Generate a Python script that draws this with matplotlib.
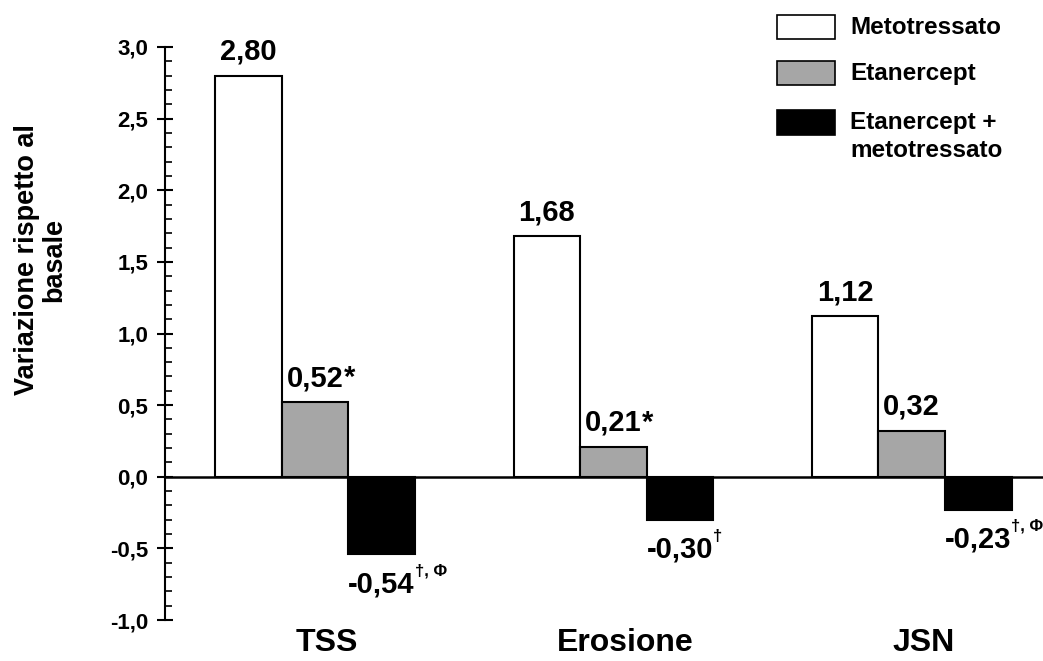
import matplotlib
matplotlib.use("Agg")
import matplotlib.pyplot as plt
from matplotlib.patches import Rectangle
from matplotlib.ticker import MultipleLocator, FixedLocator
import matplotlib.transforms as mtransforms
import numpy as np

plt.rcParams['font.family'] = ['Liberation Sans', 'DejaVu Sans']
plt.rcParams['font.weight'] = 'bold'

categories = ["TSS", "Erosione", "JSN"]
series_names = ["Metotressato", "Etanercept", "Etanercept +\nmetotressato"]
metotressato = [2.80, 1.68, 1.12]
etanercept = [0.52, 0.21, 0.32]
combo = [-0.54, -0.30, -0.23]
value_labels = [["2,80", "1,68", "1,12"],
                ["0,52", "0,21", "0,32"],
                ["-0,54", "-0,30", "-0,23"]]
value_suffix = [["", "", ""],
                ["*", "*", ""],
                ["†, Φ", "†", "†, Φ"]]
yticks = [-1.0, -0.5, 0.0, 0.5, 1.0, 1.5, 2.0, 2.5, 3.0]
ytick_labels = ["-1,0", "-0,5", "0,0", "0,5", "1,0", "1,5", "2,0", "2,5", "3,0"]

colors = ["white", "#a6a6a6", "black"]

fig = plt.figure(figsize=(10.43, 6.61), dpi=100)
ax = fig.add_axes([165/1043, 1-620/661, 1-165/1043, (620-47)/661])

x = np.arange(len(categories))
w = 0.223
series = [metotressato, etanercept, combo]
for i, (vals, c) in enumerate(zip(series, colors)):
    pos = x + (i-1)*w
    ax.bar(pos, vals, width=w, color=c, edgecolor="black", linewidth=1.5, zorder=2)
    for j, (p, v) in enumerate(zip(pos, vals)):
        if v >= 0:
            t = ax.annotate(value_labels[i][j], xy=(p, v), xytext=(0, 11.5),
                            textcoords="offset points", ha="center", va="baseline",
                            fontsize=21, fontweight="bold")
        else:
            t = ax.annotate(value_labels[i][j], xy=(p, v), xytext=(0, -11.5),
                            textcoords="offset points", ha="center", va="top",
                            fontsize=21, fontweight="bold")
        suf = value_suffix[i][j]
        if suf == "*":
            ax.annotate(suf, xy=(1, 1), xycoords=t, xytext=(0, 0),
                        textcoords="offset points", ha="left", va="top",
                        fontsize=21, fontweight="bold")
        elif suf:
            ax.annotate(suf, xy=(1, 1), xycoords=t, xytext=(0, 5),
                        textcoords="offset points", ha="left", va="top",
                        fontsize=12, fontweight="bold")

ax.set_xlim(-0.503, 2.44)
ax.set_ylim(-1.0, 3.0)
ax.axhline(0, color="black", linewidth=1.8, zorder=3)

for s in ["top", "right", "bottom"]:
    ax.spines[s].set_visible(False)
ax.spines["left"].set_linewidth(1.5)

ax.yaxis.set_major_locator(FixedLocator(yticks))
ax.set_yticklabels(ytick_labels, fontsize=16, fontweight="bold")
ax.yaxis.set_minor_locator(MultipleLocator(0.1))
ax.tick_params(axis="y", which="major", direction="inout", length=12, width=1.5, pad=6)
ax.tick_params(axis="y", which="minor", direction="in", length=5, width=1.2)

ax.set_xticks(x)
ax.set_xticklabels(categories, fontsize=23, fontweight="bold")
ax.tick_params(axis="x", length=0, pad=6)
offset = mtransforms.ScaledTranslation(12/100, 0, fig.dpi_scale_trans)
for lab in ax.get_xticklabels():
    lab.set_transform(lab.get_transform() + offset)

fig.text(41/1043, 1-260/661, "Variazione rispetto al\nbasale", rotation=90,
         ha="center", va="center", multialignment="center",
         fontsize=19.5, fontweight="bold", linespacing=1.05)

# legend (manual)
W, H = 1043, 661
handle_rows = [(15, 39), (61, 85), (110, 135)]
text_rows = [27, 73, 122]
for (top, bot), ty, c, name in zip(handle_rows, text_rows, colors, series_names):
    fig.patches.append(Rectangle((777/W, 1-bot/H), 58/W, (bot-top)/H,
                                 transform=fig.transFigure, facecolor=c,
                                 edgecolor="black", linewidth=1.2))
    fig.text(850/W, 1-(ty-11)/H, name, ha="left", va="top", fontsize=17.5,
             fontweight="bold", linespacing=1.3)

fig.savefig("out.png", dpi=100)
